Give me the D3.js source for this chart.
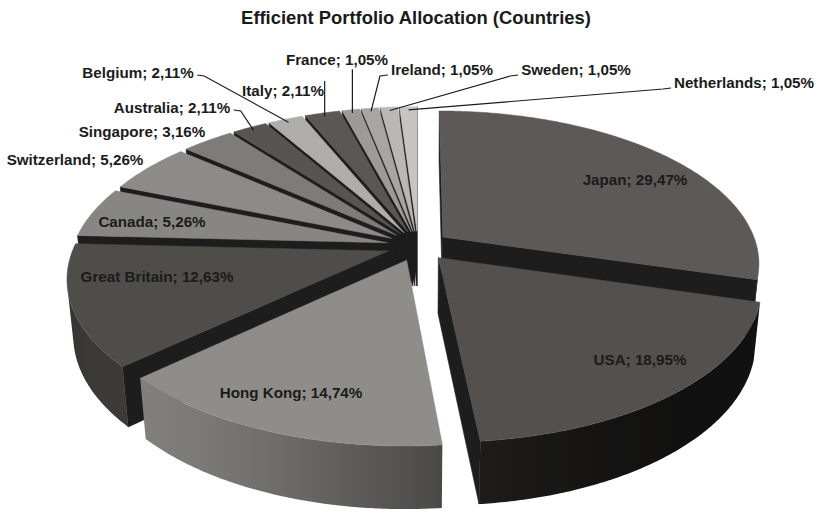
<!DOCTYPE html>
<html>
<head>
<meta charset="utf-8">
<script src="https://cdn.jsdelivr.net/npm/d3@7"></script>
<style>
  body { margin: 0; background: #ffffff; }
  text { font-family: "Liberation Sans", Arial, sans-serif; font-weight: bold; }
</style>
</head>
<body>
<svg id="chart" width="819" height="513"></svg>
<script>
// Portfolio weights per country (percent), in pie order starting at 12 o'clock
const countries = ["Japan", "USA", "Hong Kong", "Great Britain", "Canada", "Switzerland",
  "Singapore", "Australia", "Belgium", "Italy", "France", "Ireland", "Sweden", "Netherlands"];
const shares = [29.47, 18.95, 14.74, 12.63, 5.26, 5.26, 3.16, 2.11, 2.11, 2.11, 1.05, 1.05, 1.05, 1.05];

// Slice colours (top face) and how much light the outer rim keeps
const topColors = ["#5c5956", "#53504d", "#8f8d89", "#4f4d4a", "#888683", "#8d8b88",
  "#7e7c79", "#575552", "#aeadaa", "#5a5855", "#9d9b98", "#a8a6a3", "#b9b8b5", "#c6c5c2"];
const rimLight = [0.45, 0.62, 0.9, 0.76, 0.7, 0.7, 0.7, 0.7, 0.7, 0.7, 0.7, 0.7, 0.7, 0.7];
const wallColor = "#1d1d1d";

// Label placement (centre of text) and leader style
const labelPos = [[635, 180], [640, 360], [291, 393], [157, 277], [152, 222], [75, 160],
  [142, 132], [172, 108], [138, 73], [283, 91], [337, 60], [442, 70], [576, 70], [744, 83]];
const leaderMode = [null, null, null, null, null, null, null,
  "left", "left", "down", "down", "right", "right", "right"];

const svg = d3.select("#chart");
const defs = svg.append("defs");

svg.append("text")
  .attr("x", 416).attr("y", 18).attr("dy", "0.35em")
  .attr("text-anchor", "middle")
  .attr("font-size", 18.4).attr("fill", "#1a1a1a")
  .text("Efficient Portfolio Allocation (Countries)");

// ---- 3D view of the pie ----
const tilt = 28 * Math.PI / 180;   // elevation of the viewpoint
const camDist = 5.33;               // distance in pie radii
const focal = 1700, xStretch = 0.985;
const cx = 418, cy = 246;
const radius = 1, thick = 0.2, explode = 0.1;
const sa = Math.sin(tilt), ca = Math.cos(tilt);
const cam = [0, camDist * sa, -camDist * ca];

function project(p) {
  const [x, y, z] = p;
  const depth = camDist + z * ca - y * sa;
  return [cx + xStretch * focal * x / depth, cy - focal * (y * ca + z * sa) / depth];
}
function facing(p, n) {
  return (cam[0] - p[0]) * n[0] + (cam[1] - p[1]) * n[1] + (cam[2] - p[2]) * n[2] > 0;
}

const arcs = d3.pie().sort(null).value(d => d)(shares);

const slices = arcs.map((a, i) => {
  const mid = (a.startAngle + a.endAngle) / 2;
  const off = [explode * Math.sin(mid), explode * Math.cos(mid)];
  const pt = (t, r, y) => [off[0] + r * Math.sin(t), y, off[1] + r * Math.cos(t)];
  const c = pt(mid, 0.6 * radius, -thick / 2);
  const d = Math.hypot(c[0] - cam[0], c[1] - cam[1], c[2] - cam[2]);
  return { a, i, mid, pt, d };
});
slices.sort((p, q) => q.d - p.d);

const line = d3.line();
const g = svg.append("g");

function shadeRim(color, t, k) {
  const c = Math.max(0, Math.cos(t - 228 * Math.PI / 180));
  const m = (0.35 + 0.65 * c * c) * k;
  const rgb = d3.rgb(color);
  return d3.rgb(rgb.r * m, rgb.g * m, rgb.b * m).formatHex();
}

slices.forEach(s => {
  const { a, i, pt } = s;
  const t0 = a.startAngle, t1 = a.endAngle;
  const steps = Math.max(2, Math.ceil((t1 - t0) / (Math.PI / 360)));
  const sg = g.append("g").attr("class", "slice");

  // radial walls
  const apexTop = pt(0, 0, 0), apexBot = pt(0, 0, -thick);
  const walls = [
    { t: t0, n: [-Math.cos(t0), 0, Math.sin(t0)] },
    { t: t1, n: [Math.cos(t1), 0, -Math.sin(t1)] }
  ];
  walls.forEach(w => {
    if (!facing(apexTop, w.n)) return;
    const poly = [apexTop, pt(w.t, radius, 0), pt(w.t, radius, -thick), apexBot].map(project);
    sg.append("path").attr("d", line(poly) + "Z")
      .attr("fill", wallColor).attr("stroke", wallColor).attr("stroke-width", 0.6)
      .attr("stroke-linejoin", "round");
  });

  // outer rim: visible stretch as one shape with a horizontal light gradient
  const vis = [];
  for (let k = 0; k <= steps; k++) {
    const t = t0 + (t1 - t0) * k / steps;
    const p = pt(t, radius, -thick / 2);
    if (facing(p, [Math.sin(t), 0, Math.cos(t)])) vis.push(t);
  }
  if (vis.length > 1) {
    const topRim = vis.map(t => project(pt(t, radius, 0)));
    const botRim = vis.map(t => project(pt(t, radius, -thick))).reverse();
    const xs = topRim.map(p => p[0]);
    const x1 = d3.min(xs), x2 = d3.max(xs);
    const gid = "rim" + i;
    const grad = defs.append("linearGradient").attr("id", gid)
      .attr("gradientUnits", "userSpaceOnUse")
      .attr("x1", x1).attr("x2", x2).attr("y1", 0).attr("y2", 0);
    const stops = vis.filter((t, k) => k % 4 === 0 || k === vis.length - 1)
      .map(t => ({ o: (project(pt(t, radius, 0))[0] - x1) / Math.max(1e-6, x2 - x1), c: shadeRim(topColors[i], t, rimLight[i]) }))
      .sort((p, q) => p.o - q.o);
    stops.forEach(st => grad.append("stop").attr("offset", st.o).attr("stop-color", st.c));
    sg.append("path").attr("d", line(topRim.concat(botRim)) + "Z")
      .attr("fill", `url(#${gid})`);
  }

  // top face
  const topPts = [apexTop];
  for (let k = 0; k <= steps; k++) topPts.push(pt(t0 + (t1 - t0) * k / steps, radius, 0));
  sg.append("path").attr("d", line(topPts.map(project)) + "Z")
    .attr("fill", topColors[i]).attr("stroke", topColors[i]).attr("stroke-width", 0.5)
    .attr("stroke-linejoin", "round");
});

// ---- labels ----
const fmt = v => v.toFixed(2).replace(".", ",") + "%";
const lg = svg.append("g");
slices.slice().sort((p, q) => p.i - q.i).forEach(s => {
  const i = s.i;
  const [lx, ly] = labelPos[i];
  const txt = lg.append("text")
    .attr("x", lx).attr("y", ly).attr("dy", "0.35em")
    .attr("text-anchor", "middle").attr("font-size", 15.2).attr("fill", "#1b1b1b")
    .text(countries[i] + "; " + fmt(shares[i]));
  const mode = leaderMode[i];
  if (!mode) return;
  const bb = txt.node().getBBox();
  const end = project(s.pt(s.mid, 0.97 * radius, 0));
  let pts;
  if (mode === "left") {
    const st = [bb.x + bb.width + 3, ly + 2];
    pts = [st, [st[0] + 7, st[1] + 1], end];
  } else if (mode === "right") {
    const st = [bb.x - 3, ly + 5];
    pts = [st, [st[0] - 8, st[1] + 1], end];
  } else {
    const inside = end[0] > bb.x && end[0] < bb.x + bb.width;
    pts = [[end[0], inside ? bb.y + bb.height + 1 : ly - 10], end];
  }
  lg.append("path").attr("d", line(pts))
    .attr("fill", "none").attr("stroke", "#1b1b1b").attr("stroke-width", 1.2);
});
</script>
</body>
</html>
